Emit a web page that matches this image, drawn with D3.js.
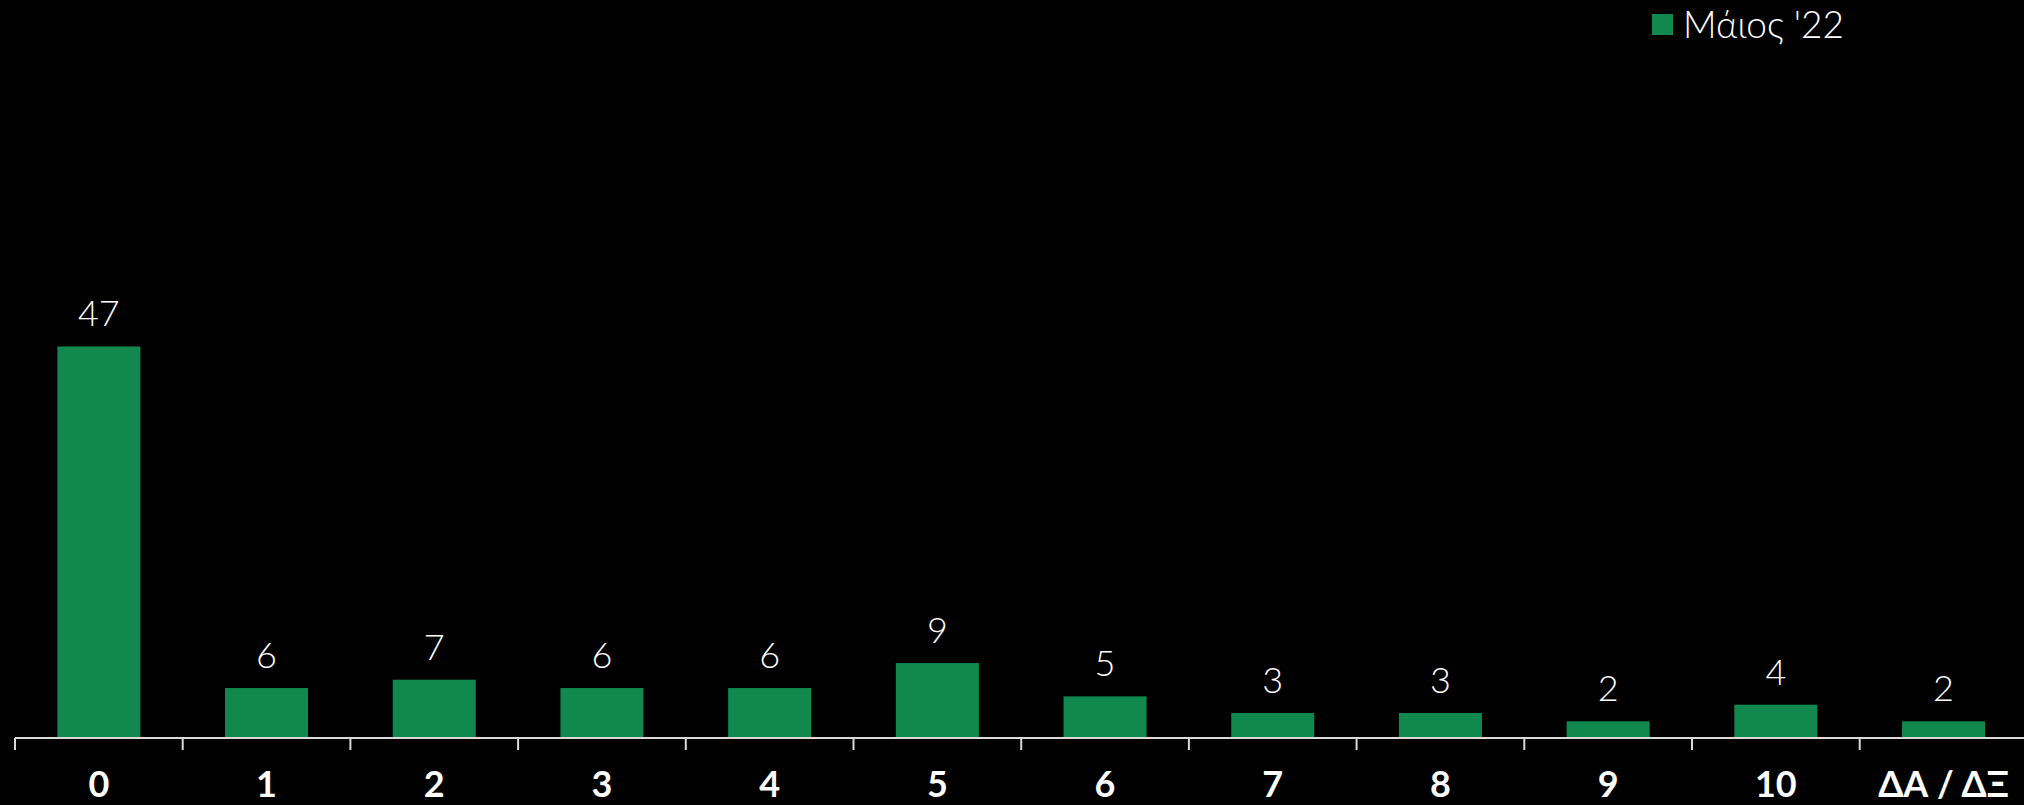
<!DOCTYPE html>
<html>
<head>
<meta charset="utf-8">
<script src="https://cdn.jsdelivr.net/npm/d3@7"></script>
<style>
  html, body { margin: 0; padding: 0; background: #000; }
  svg { display: block; }
</style>
</head>
<body>
<div id="chart"></div>
<script>
// --- data
const categories = ['0', '1', '2', '3', '4', '5', '6', '7', '8', '9', '10', 'ΔΑ / ΔΞ'];
const values = [47, 6, 7, 6, 6, 9, 5, 3, 3, 2, 4, 2];
const seriesName = "Μάιος '22";

const width = 2024;
const height = 805;
const green = '#10884e';
const font = "Lato, 'Open Sans', sans-serif";

const svg = d3.select('#chart').append('svg')
  .attr('width', width)
  .attr('height', height)
  .style('background', '#000');

// band scale runs a bit past the right edge, like the original
const x = d3.scaleBand()
  .domain(categories)
  .range([15, 15 + 167.7 * categories.length])
  .paddingInner(0.505)
  .paddingOuter(0.2525);

const y = d3.scaleLinear()
  .domain([0, 80])
  .range([738, 738 - 80 * 8.33]);

// bars
svg.selectAll('.bar').data(values)
  .enter()
  .append('rect')
  .attr('class', 'bar')
  .attr('x', (d, i) => x(categories[i]))
  .attr('y', d => y(d))
  .attr('width', x.bandwidth())
  .attr('height', d => y(0) - y(d))
  .style('fill', green);

// value labels
svg.selectAll('.val').data(values)
  .enter()
  .append('text')
  .attr('class', 'val')
  .attr('x', (d, i) => x(categories[i]) + x.bandwidth() / 2)
  .attr('y', d => y(d) - 20)
  .attr('text-anchor', 'middle')
  .style('font-family', font)
  .style('font-weight', 300)
  .style('font-size', '36px')
  .style('fill', '#fff')
  .text(d => d);

// x axis line + ticks between categories
const axisG = svg.append('g');
axisG.append('line')
  .attr('x1', 15).attr('x2', width)
  .attr('y1', y(0)).attr('y2', y(0))
  .style('stroke', '#d9d9d9')
  .style('stroke-width', 2);

const step = x.step();
axisG.selectAll('.tick').data(categories)
  .enter()
  .append('line')
  .attr('class', 'tick')
  .attr('x1', d => x(d) - x.paddingOuter() * step)
  .attr('x2', d => x(d) - x.paddingOuter() * step)
  .attr('y1', y(0))
  .attr('y2', y(0) + 12)
  .style('stroke', '#d9d9d9')
  .style('stroke-width', 2);

// category labels
axisG.selectAll('.cat').data(categories)
  .enter()
  .append('text')
  .attr('class', 'cat')
  .attr('x', d => x(d) + x.bandwidth() / 2)
  .attr('y', 797)
  .attr('text-anchor', 'middle')
  .style('font-family', font)
  .style('font-weight', 700)
  .style('font-size', '36px')
  .style('fill', '#fff')
  .text(d => d);

// legend
const legend = svg.append('g').attr('transform', 'translate(1652,14)');
legend.append('rect')
  .attr('width', 21).attr('height', 21)
  .style('fill', green);
legend.append('text')
  .attr('x', 31).attr('y', 24)
  .style('font-family', font)
  .style('font-weight', 300)
  .style('font-size', '37px')
  .style('fill', '#fff')
  .text(seriesName);
</script>
</body>
</html>
